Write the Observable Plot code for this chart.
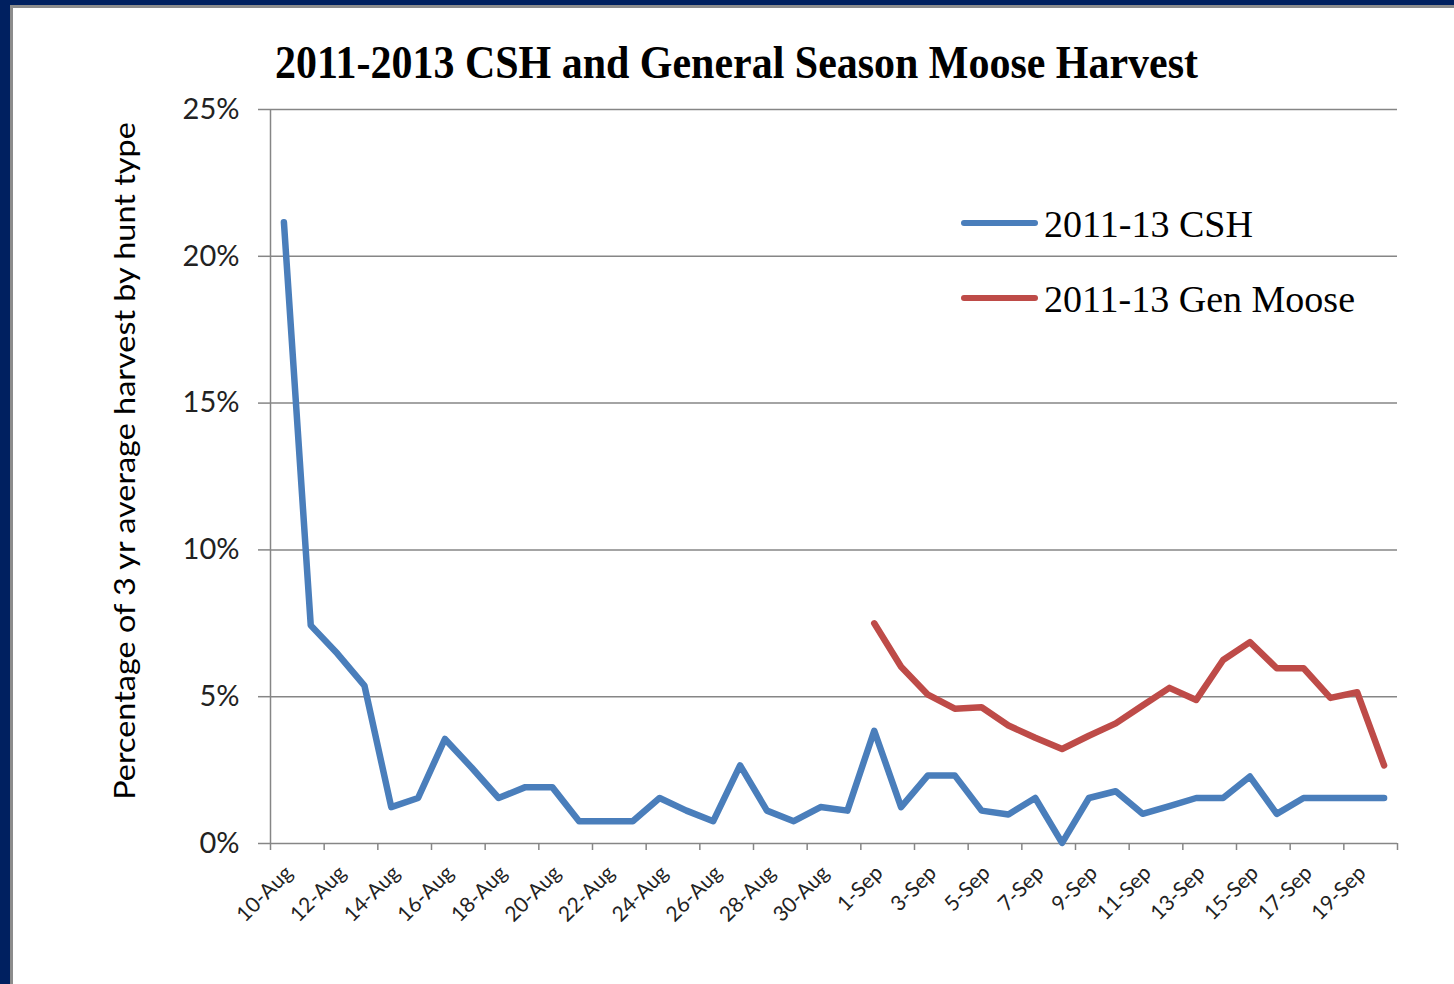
<!DOCTYPE html>
<html>
<head>
<meta charset="utf-8">
<script src="https://cdn.jsdelivr.net/npm/d3@7"></script>
<script src="https://cdn.jsdelivr.net/npm/@observablehq/plot@0.6"></script>
<style>
  html, body { margin: 0; padding: 0; width: 1454px; height: 984px; overflow: hidden; background: #002060; }
  #page { position: absolute; left: 10px; top: 5px; width: 1444px; height: 979px; background: #fff;
          border-left: 3px solid #8c8c8c; border-top: 3px solid #8c8c8c; box-sizing: border-box; }
  #chart { position: absolute; left: 0; top: 0; }
  .txt { position: absolute; white-space: nowrap; line-height: 1; color: #000; transform-origin: 0 0; }
  #title { font: bold 42px "Liberation Serif", serif; left: 275px; top: 37px; }
  .leg { font: 38px "Liberation Serif", serif; left: 1044px; }
  .legline { position: absolute; left: 961px; width: 77px; height: 6px; border-radius: 3px; }
  #ylabel { font: 28px Lato, sans-serif; left: 124px; top: 461px; transform-origin: 50% 50%; }
</style>
</head>
<body>
<div id="page"></div>
<div id="chart"></div>
<div id="title" class="txt">2011-2013 CSH and General Season Moose Harvest</div>
<div class="legline" style="top:220px;background:#4a7ebb"></div>
<div class="legline" style="top:295px;background:#be4b48"></div>
<div id="leg1" class="txt leg" style="top:202px">2011-13 CSH</div>
<div id="leg2" class="txt leg" style="top:277px">2011-13 Gen Moose</div>
<div id="ylabel" class="txt">Percentage of 3 yr average harvest by hunt type</div>
<script>
// ---- data ----
const dates = [
  "10-Aug","11-Aug","12-Aug","13-Aug","14-Aug","15-Aug","16-Aug","17-Aug","18-Aug","19-Aug",
  "20-Aug","21-Aug","22-Aug","23-Aug","24-Aug","25-Aug","26-Aug","27-Aug","28-Aug","29-Aug",
  "30-Aug","31-Aug","1-Sep","2-Sep","3-Sep","4-Sep","5-Sep","6-Sep","7-Sep","8-Sep",
  "9-Sep","10-Sep","11-Sep","12-Sep","13-Sep","14-Sep","15-Sep","16-Sep","17-Sep","18-Sep",
  "19-Sep","20-Sep"
];
const cshValues = [
  21.16, 7.43, 6.46, 5.38, 1.24, 1.55, 3.56, 2.58, 1.55, 1.92,
  1.92, 0.76, 0.76, 0.76, 1.55, 1.12, 0.76, 2.66, 1.12, 0.76,
  1.24, 1.12, 3.84, 1.24, 2.32, 2.32, 1.12, 0.99, 1.55, 0.02,
  1.55, 1.78, 1.01, 1.27, 1.55, 1.55, 2.28, 1.01, 1.55, 1.55,
  1.55, 1.55
];
const genMooseValues = [
  null, null, null, null, null, null, null, null, null, null,
  null, null, null, null, null, null, null, null, null, null,
  null, null, 7.50, 6.02, 5.07, 4.59, 4.64, 4.02, 3.60, 3.22,
  3.67, 4.09, 4.70, 5.30, 4.89, 6.25, 6.86, 5.97, 5.97, 4.96,
  5.15, 2.66
];
const yTicks = [0, 5, 10, 15, 20, 25];
const seriesColors = { csh: "#4a7ebb", gen: "#be4b48" };

// ---- table ----
const rows = dates.map((d, i) => ({ i, date: d, csh: cshValues[i], gen: genMooseValues[i] }));
const center = d => d.i + 0.5;
const tickBounds = d3.range(0, dates.length + 1, 2);
const labelPos = d3.range(0, dates.length, 2).map(i => i + 0.5);

const grid = "#868686";
const chart = Plot.plot({
  width: 1454,
  height: 984,
  marginLeft: 270,
  marginRight: 57,
  marginTop: 109,
  marginBottom: 141,
  style: { background: "transparent", fontFamily: "Lato, sans-serif", color: "#111" },
  x: { type: "linear", domain: [0, dates.length], axis: null },
  y: { domain: [0, 25], axis: null, label: null },
  marks: [
    Plot.gridY(yTicks, { stroke: grid, strokeOpacity: 1, strokeWidth: 1.5 }),
    Plot.ruleX([0], { stroke: grid, strokeWidth: 1.5 }),
    Plot.axisY(yTicks, { tickSize: 12, tickPadding: 19, stroke: grid, strokeWidth: 1.5, strokeOpacity: 1,
      tickFormat: d => d + "%", fontSize: 29, fill: "#222", label: null }),
    Plot.axisX(tickBounds, { tickSize: 7, stroke: grid, strokeWidth: 1.5, strokeOpacity: 1, tickFormat: () => "", label: null }),
    Plot.axisX(labelPos, { tickSize: 0, tickPadding: 26, dx: 5, tickRotate: -45, fontSize: 21, fill: "#222",
      tickFormat: d => dates[Math.round(d - 0.5)], label: null }),
    Plot.line(rows, { x: center, y: "csh", stroke: seriesColors.csh, strokeWidth: 6.5,
      strokeLinejoin: "round", strokeLinecap: "round" }),
    Plot.line(rows.filter(d => d.gen != null), { x: center, y: "gen", stroke: seriesColors.gen, strokeWidth: 6.5,
      strokeLinejoin: "round", strokeLinecap: "round" })
  ]
});
document.getElementById("chart").appendChild(chart);

// ---- fit overlay texts to their measured widths ----
function fitWidth(id, target, sy) {
  const el = document.getElementById(id);
  const w = el.getBoundingClientRect().width;
  el.style.transform = `scale(${target / w}, ${sy})`;
}
fitWidth("title", 923, 1.08);
fitWidth("leg1", 209, 1);
fitWidth("leg2", 311, 1);
(function () {
  const el = document.getElementById("ylabel");
  const w = el.offsetWidth;
  el.style.transform = `translate(-50%, -50%) rotate(-90deg) scale(${678 / w}, 1)`;
})();
</script>
</body>
</html>
